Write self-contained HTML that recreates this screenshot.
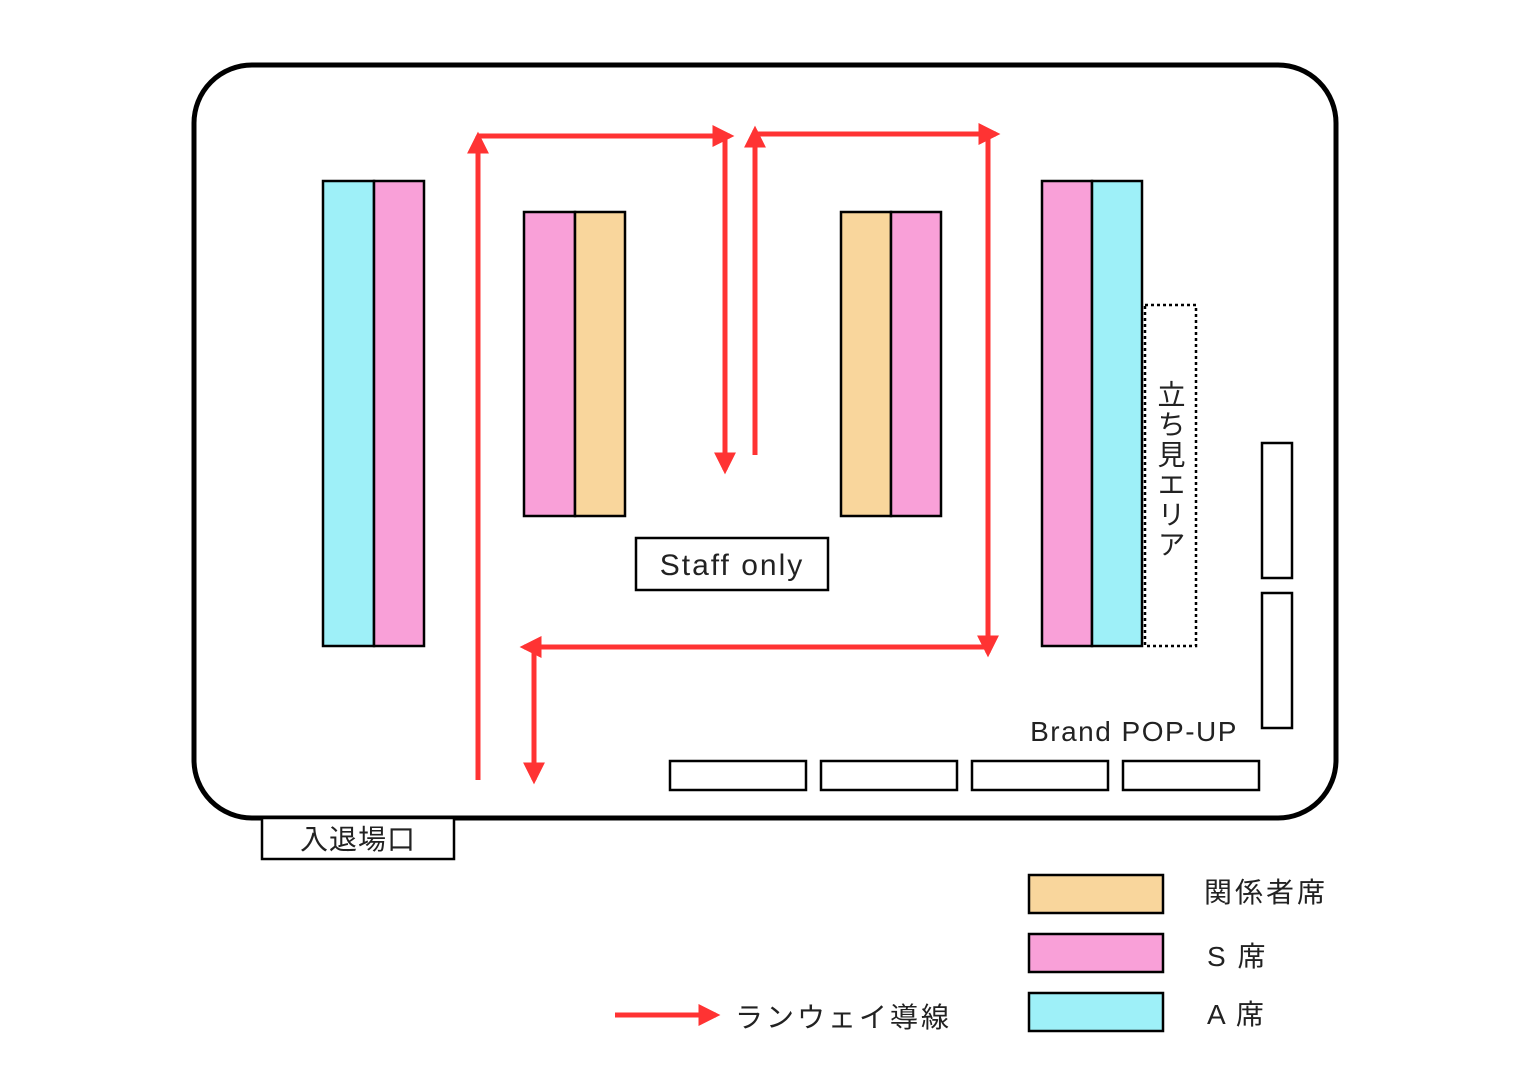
<!DOCTYPE html>
<html><head><meta charset="utf-8"><style>body{margin:0;background:#fff}svg{display:block}text{font-family:"Liberation Sans","Noto Sans CJK JP",sans-serif;fill:#222}</style></head><body>
<svg width="1522" height="1075" viewBox="0 0 1522 1075" xmlns="http://www.w3.org/2000/svg">
<defs><marker id="ah" viewBox="0 0 10 10" refX="8" refY="5" markerWidth="4.4" markerHeight="4.4" orient="auto"><path d="M0,0 L10,5 L0,10 z" fill="#f33"/></marker></defs>
<rect x="194" y="65" width="1142" height="753" rx="58" fill="#fff" stroke="#000" stroke-width="5"/>
<g stroke="#000" stroke-width="2.5">
<rect x="323" y="181" width="51" height="465" fill="#9ef0f8"/><rect x="374" y="181" width="50" height="465" fill="#f9a0d8"/>
<rect x="524" y="212" width="51" height="304" fill="#f9a0d8"/><rect x="575" y="212" width="50" height="304" fill="#f9d69c"/>
<rect x="841" y="212" width="50" height="304" fill="#f9d69c"/><rect x="891" y="212" width="50" height="304" fill="#f9a0d8"/>
<rect x="1042" y="181" width="50" height="465" fill="#f9a0d8"/><rect x="1092" y="181" width="50" height="465" fill="#9ef0f8"/>
<rect x="1262" y="443" width="30" height="135" fill="#fff"/><rect x="1262" y="593" width="30" height="135" fill="#fff"/>
<rect x="670" y="761" width="136" height="29" fill="#fff"/><rect x="821" y="761" width="136" height="29" fill="#fff"/>
<rect x="972" y="761" width="136" height="29" fill="#fff"/><rect x="1123" y="761" width="136" height="29" fill="#fff"/>
<rect x="636" y="538" width="192" height="52" fill="#fff"/>
<rect x="262" y="818" width="192" height="41" fill="#fff"/>
<rect x="1029" y="875" width="134" height="38" fill="#f9d69c"/>
<rect x="1029" y="934" width="134" height="38" fill="#f9a0d8"/>
<rect x="1029" y="993" width="134" height="38" fill="#9ef0f8"/>
</g>
<rect x="1145" y="305" width="51" height="341" fill="none" stroke="#000" stroke-width="2.5" stroke-dasharray="3,3"/>
<g stroke="#f33" stroke-width="5" fill="none" marker-end="url(#ah)">
<line x1="478" y1="780" x2="478" y2="136"/>
<line x1="478" y1="136" x2="730" y2="136"/>
<line x1="725" y1="136" x2="725" y2="470"/>
<line x1="755" y1="455" x2="755" y2="130"/>
<line x1="755" y1="134" x2="996" y2="134"/>
<line x1="988" y1="134" x2="988" y2="653"/>
<line x1="988" y1="647" x2="524" y2="647"/>
<line x1="534" y1="647" x2="534" y2="780"/>
<line x1="615" y1="1015" x2="716" y2="1015"/>
</g>
<text x="732" y="575" font-size="30" text-anchor="middle" letter-spacing="2">Staff only</text>
<text x="358" y="849" font-size="28" text-anchor="middle" letter-spacing="1">入退場口</text>
<text x="1134" y="741" font-size="28" text-anchor="middle" letter-spacing="1.5">Brand  POP-UP</text>
<text x="1170" y="380" font-size="28" writing-mode="tb" glyph-orientation-vertical="0" text-anchor="start" letter-spacing="2">立ち見エリア</text>
<text x="1204" y="902" font-size="28" letter-spacing="3">関係者席</text>
<text x="1207" y="966" font-size="28" letter-spacing="2">S 席</text>
<text x="1207" y="1024" font-size="28" letter-spacing="2">A 席</text>
<text x="735" y="1027" font-size="28" letter-spacing="3">ランウェイ導線</text>
</svg>
</body></html>
